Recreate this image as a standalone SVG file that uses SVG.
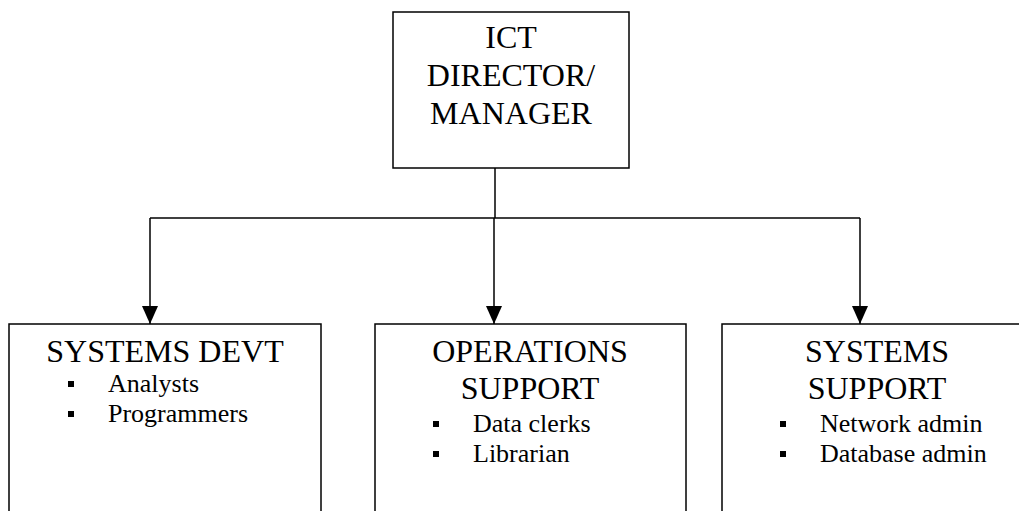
<svg xmlns="http://www.w3.org/2000/svg" width="1019" height="511" viewBox="0 0 1019 511">
<style>
.box{fill:#fff;stroke:#000;stroke-width:1.5}
.ln{fill:none;stroke:#000;stroke-width:1.5}
text{font-family:'Liberation Serif','Times New Roman','DejaVu Serif',serif;fill:#000}
.t{font-size:32px;text-anchor:middle}
.b{font-size:26px}
.sq{fill:#000}
</style>
<defs>
<marker id="arr" viewBox="0 0 18 16" refX="18" refY="8" markerWidth="18" markerHeight="16" markerUnits="userSpaceOnUse" orient="auto">
<path d="M0,0 L18,8 L0,16 Z" fill="#000"/>
</marker>
</defs>
<rect width="1019" height="511" fill="#fff"/>
<g id="connectors">
<path class="ln" d="M495,168 V218"/>
<path class="ln" d="M150,218 H860"/>
<path class="ln" d="M150,218 V324" marker-end="url(#arr)"/>
<path class="ln" d="M494,218 V324" marker-end="url(#arr)"/>
<path class="ln" d="M860,218 V324" marker-end="url(#arr)"/>
</g>
<g id="director">
<rect class="box" x="393" y="12" width="236" height="156"/>
<text class="t" x="511" y="48" font-family="Liberation Serif, serif">ICT</text>
<text class="t" x="511" y="86" font-family="Liberation Serif, serif">DIRECTOR/</text>
<text class="t" x="511" y="124" font-family="Liberation Serif, serif">MANAGER</text>
</g>
<g id="systems-devt">
<rect class="box" x="9" y="324" width="312" height="220"/>
<text class="t" x="165" y="362">SYSTEMS DEVT</text>
<rect class="sq" x="68" y="381" width="6" height="6"/>
<text class="b" x="108" y="392">Analysts</text>
<rect class="sq" x="68" y="411" width="6" height="6"/>
<text class="b" x="108" y="422">Programmers</text>
</g>
<g id="operations-support">
<rect class="box" x="375" y="324" width="311" height="220"/>
<text class="t" x="530" y="362">OPERATIONS</text>
<text class="t" x="530" y="399">SUPPORT</text>
<rect class="sq" x="433" y="421" width="6" height="6"/>
<text class="b" x="473" y="432">Data clerks</text>
<rect class="sq" x="433" y="451" width="6" height="6"/>
<text class="b" x="473" y="462">Librarian</text>
</g>
<g id="systems-support">
<rect class="box" x="722" y="324" width="312" height="220"/>
<text class="t" x="877" y="362">SYSTEMS</text>
<text class="t" x="877" y="399">SUPPORT</text>
<rect class="sq" x="780" y="421" width="6" height="6"/>
<text class="b" x="820" y="432">Network admin</text>
<rect class="sq" x="780" y="451" width="6" height="6"/>
<text class="b" x="820" y="462">Database admin</text>
</g>
</svg>
